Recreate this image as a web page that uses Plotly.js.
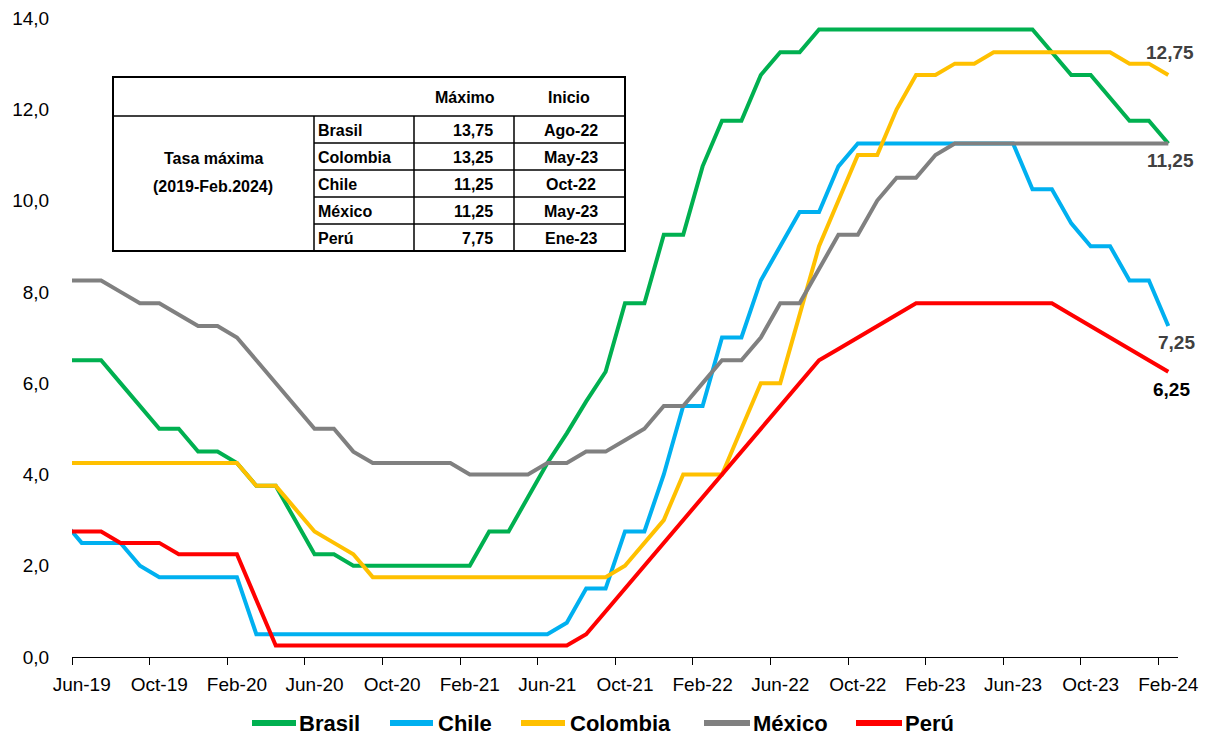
<!DOCTYPE html>
<html><head><meta charset="utf-8">
<script src="https://cdn.plot.ly/plotly-3.0.1.min.js"></script>
<style>html,body{margin:0;padding:0;background:#fff}</style>
</head><body><div id="chart" style="width:1205px;height:736px"></div>
<script>
// ---- DATA ----
const months = [
  'May-19','Jun-19','Jul-19','Ago-19','Sep-19','Oct-19','Nov-19','Dic-19',
  'Ene-20','Feb-20','Mar-20','Abr-20','May-20','Jun-20','Jul-20','Ago-20','Sep-20','Oct-20','Nov-20','Dic-20',
  'Ene-21','Feb-21','Mar-21','Abr-21','May-21','Jun-21','Jul-21','Ago-21','Sep-21','Oct-21','Nov-21','Dic-21',
  'Ene-22','Feb-22','Mar-22','Abr-22','May-22','Jun-22','Jul-22','Ago-22','Sep-22','Oct-22','Nov-22','Dic-22',
  'Ene-23','Feb-23','Mar-23','Abr-23','May-23','Jun-23','Jul-23','Ago-23','Sep-23','Oct-23','Nov-23','Dic-23',
  'Ene-24','Feb-24'
];
const brasil = [
  6.5, 6.5, 6.5, 6.0, 5.5, 5.0, 5.0, 4.5,
  4.5, 4.25, 3.75, 3.75, 3.0, 2.25, 2.25, 2.0, 2.0, 2.0, 2.0, 2.0,
  2.0, 2.0, 2.75, 2.75, 3.5, 4.25, 4.9, 5.6, 6.25, 7.75, 7.75, 9.25,
  9.25, 10.75, 11.75, 11.75, 12.75, 13.25, 13.25, 13.75, 13.75, 13.75, 13.75, 13.75,
  13.75, 13.75, 13.75, 13.75, 13.75, 13.75, 13.75, 13.25, 12.75, 12.75, 12.25, 11.75,
  11.75, 11.25
];
const chile = [
  3.0, 2.5, 2.5, 2.5, 2.0, 1.75, 1.75, 1.75,
  1.75, 1.75, 0.5, 0.5, 0.5, 0.5, 0.5, 0.5, 0.5, 0.5, 0.5, 0.5,
  0.5, 0.5, 0.5, 0.5, 0.5, 0.5, 0.75, 1.5, 1.5, 2.75, 2.75, 4.0,
  5.5, 5.5, 7.0, 7.0, 8.25, 9.0, 9.75, 9.75, 10.75, 11.25, 11.25, 11.25,
  11.25, 11.25, 11.25, 11.25, 11.25, 11.25, 10.25, 10.25, 9.5, 9.0, 9.0, 8.25,
  8.25, 7.25
];
const colombia = [
  4.25, 4.25, 4.25, 4.25, 4.25, 4.25, 4.25, 4.25,
  4.25, 4.25, 3.75, 3.75, 3.25, 2.75, 2.5, 2.25, 1.75, 1.75, 1.75, 1.75,
  1.75, 1.75, 1.75, 1.75, 1.75, 1.75, 1.75, 1.75, 1.75, 2.0, 2.5, 3.0,
  4.0, 4.0, 4.0, 5.0, 6.0, 6.0, 7.5, 9.0, 10.0, 11.0, 11.0, 12.0,
  12.75, 12.75, 13.0, 13.0, 13.25, 13.25, 13.25, 13.25, 13.25, 13.25, 13.25, 13.0,
  13.0, 12.75
];
const mexico = [
  8.25, 8.25, 8.25, 8.0, 7.75, 7.75, 7.5, 7.25,
  7.25, 7.0, 6.5, 6.0, 5.5, 5.0, 5.0, 4.5, 4.25, 4.25, 4.25, 4.25,
  4.25, 4.0, 4.0, 4.0, 4.0, 4.25, 4.25, 4.5, 4.5, 4.75, 5.0, 5.5,
  5.5, 6.0, 6.5, 6.5, 7.0, 7.75, 7.75, 8.5, 9.25, 9.25, 10.0, 10.5,
  10.5, 11.0, 11.25, 11.25, 11.25, 11.25, 11.25, 11.25, 11.25, 11.25, 11.25, 11.25,
  11.25, 11.25
];
const peru = [
  2.75, 2.75, 2.75, 2.5, 2.5, 2.5, 2.25, 2.25,
  2.25, 2.25, 1.25, 0.25, 0.25, 0.25, 0.25, 0.25, 0.25, 0.25, 0.25, 0.25,
  0.25, 0.25, 0.25, 0.25, 0.25, 0.25, 0.25, 0.5, 1.0, 1.5, 2.0, 2.5,
  3.0, 3.5, 4.0, 4.5, 5.0, 5.5, 6.0, 6.5, 6.75, 7.0, 7.25, 7.5,
  7.75, 7.75, 7.75, 7.75, 7.75, 7.75, 7.75, 7.75, 7.5, 7.25, 7.0, 6.75,
  6.5, 6.25
];
const tickLabels = ['Jun-19','Oct-19','Feb-20','Jun-20','Oct-20','Feb-21','Jun-21','Oct-21',
                    'Feb-22','Jun-22','Oct-22','Feb-23','Jun-23','Oct-23','Feb-24'];
const firstShown = 'Jun-19';
const lastShown = 'Feb-24';

const tableCountries = ['Brasil','Colombia','Chile','México','Perú'];
const tableMax = [13.75, 13.25, 11.25, 11.25, 7.75];
const tableStart = ['Ago-22','May-23','Oct-22','May-23','Ene-23'];
const tableHeader = ['Máximo','Inicio'];
const tableTitle = ['Tasa máxima','(2019-Feb.2024)'];

// ---- STYLE ----
const FONT = 'Liberation Sans, Arial, sans-serif';
const series = [
  {name:'Brasil', y:brasil, color:'#00B050'},
  {name:'Chile', y:chile, color:'#00B0F0'},
  {name:'Colombia', y:colombia, color:'#FFC000'},
  {name:'México', y:mexico, color:'#808080'},
  {name:'Perú', y:peru, color:'#FF0000'}
];
const xIdx = months.map((m,i)=>i);
const fmt = v => v.toFixed(2).replace('.', ',');

const traces = series.map(s => ({
  type:'scatter', mode:'lines', name:s.name, x:xIdx, y:s.y,
  line:{color:s.color, width:4, shape:'linear'}, xaxis:'x', yaxis:'y', showlegend:false
}));
// empty trace to activate the boundary-tick axis
traces.push({type:'scatter', mode:'lines', x:[], y:[], xaxis:'x2', yaxis:'y', showlegend:false, hoverinfo:'skip'});

const i0 = months.indexOf(firstShown), i1 = months.indexOf(lastShown);
const xr = [i0 - 0.5, i1 + 0.5];
const centerVals = tickLabels.map(l => months.indexOf(l));
const boundVals = centerVals.map(v => v - 0.5);

// pixel -> paper helpers (layout only)
const W = 1205, H = 736;
const L=72, R=1178, T=18, B=657;
const px = v => (v - L) / (R - L);
const py = v => (B - v) / (B - T);

const shapes = [];
const line = (x0,y0,x1,y1,w) => shapes.push({type:'line', xref:'paper', yref:'paper',
  x0:px(x0), y0:py(y0), x1:px(x1), y1:py(y1), line:{color:'#000', width:w}});
const tx = {l:113, c1:314, c2:414, c3:514, r:625};
const ty = {t:77, h:116, b:251};
const rowH = (ty.b - ty.h) / tableCountries.length;
shapes.push({type:'rect', xref:'paper', yref:'paper', x0:px(tx.l), x1:px(tx.r), y0:py(ty.t), y1:py(ty.b),
  line:{color:'#000', width:2}, fillcolor:'rgba(255,255,255,1)', layer:'below'});
line(tx.l, ty.h, tx.r, ty.h, 1.5);
[tx.c1, tx.c2, tx.c3].forEach(c => line(c, ty.h, c, ty.b, 1.5));
for (let i = 1; i < tableCountries.length; i++) line(tx.c1, ty.h + rowH*i, tx.r, ty.h + rowH*i, 1.5);

const ann = [];
const tfont = {family:FONT, size:16, color:'#000', weight:'bold'};
const txt = (x, y, text, xanchor, f) => ann.push({xref:'paper', yref:'paper', x:px(x), y:py(y), text:text,
  showarrow:false, xanchor:xanchor, yanchor:'middle', font:f || tfont});
txt(465, 97, tableHeader[0], 'center');
txt(569, 97, tableHeader[1], 'center');
txt(213, 159, tableTitle[0], 'center');
txt(213, 186, tableTitle[1], 'center');
tableCountries.forEach((c,i) => {
  const yc = ty.h + rowH*(i+0.5) + 1;
  txt(316, yc, c, 'left');
  txt(495, yc, fmt(tableMax[i]), 'right');
  txt(571, yc, tableStart[i], 'center');
});

// end-of-series labels
const lastI = months.length - 1;
const endLabels = [
  {y:colombia[lastI], shift:23, dx:2, color:'#404040'},
  {y:mexico[lastI], shift:-17, dx:2, color:'#404040'},
  {y:chile[lastI], shift:-16, dx:8, color:'#404040'},
  {y:peru[lastI], shift:-18, dx:3, color:'#000000'}
];
endLabels.forEach(e => ann.push({xref:'x', yref:'y', x:lastI, y:e.y, text:fmt(e.y), showarrow:false,
  xanchor:'center', yanchor:'middle', yshift:e.shift, xshift:e.dx,
  font:{family:FONT, size:19, color:e.color, weight:'bold'}}));

// legend drawn below the plot (swatch start/end and text start, in page pixels)
const legendPos = [[252,296,298],[390,433,437],[521,565,569],[704,750,752],[856,902,904]];
const legY = 723;
series.forEach((s,i) => {
  const p = legendPos[i];
  shapes.push({type:'line', xref:'paper', yref:'paper', x0:px(p[0]), x1:px(p[1]), y0:py(legY), y1:py(legY),
    line:{color:s.color, width:6}});
  ann.push({xref:'paper', yref:'paper', x:px(p[2]), y:py(legY), text:s.name, showarrow:false,
    xanchor:'left', yanchor:'middle', borderpad:0, font:{family:FONT, size:22, color:'#000', weight:'bold'}});
});

const layout = {
  width:W, height:H,
  margin:{l:L, r:W-R, t:T, b:H-B, pad:0},
  paper_bgcolor:'#fff', plot_bgcolor:'#fff',
  separators:',.',
  showlegend:false,
  font:{family:FONT, color:'#000'},
  xaxis:{range:xr, tickmode:'array', tickvals:centerVals, ticktext:tickLabels,
    showgrid:false, zeroline:false, showline:true, linecolor:'#000', linewidth:1,
    ticks:'outside', ticklen:10, tickcolor:'rgba(0,0,0,0)',
    tickfont:{family:FONT, size:19, color:'#000'}, fixedrange:true},
  xaxis2:{range:xr, overlaying:'x', anchor:'y', side:'bottom', tickmode:'array', tickvals:boundVals,
    showticklabels:false, showgrid:false, zeroline:false, showline:false,
    ticks:'outside', ticklen:7, tickcolor:'#000', tickwidth:1},
  yaxis:{range:[0,14], tickmode:'linear', tick0:0, dtick:2, tickformat:'.1f',
    showgrid:false, zeroline:false, showline:false,
    ticks:'outside', ticklen:18, tickcolor:'rgba(0,0,0,0)',
    tickfont:{family:FONT, size:19, color:'#000'}},
  shapes:shapes,
  annotations:ann
};

Plotly.newPlot('chart', traces, layout, {displayModeBar:false, staticPlot:true});
</script></body></html>
